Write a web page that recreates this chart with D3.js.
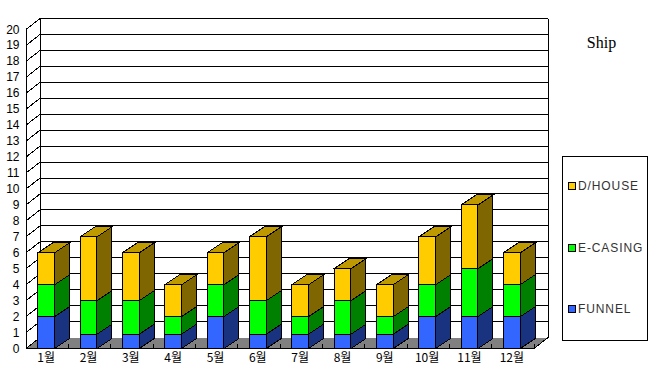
<!DOCTYPE html>
<html>
<head>
<meta charset="utf-8">
<script src="https://d3js.org/d3.v7.min.js"></script>
<style>
  body { margin: 0; background: #fff; }
  svg { display: block; }
</style>
</head>
<body>
<div id="chart"></div>
<script>
// chart data
const months = ["1월", "2월", "3월", "4월", "5월", "6월", "7월", "8월", "9월", "10월", "11월", "12월"];
const funnel = [2, 0.9, 0.9, 0.9, 2, 0.9, 0.9, 0.9, 0.9, 2, 2, 2];
const eCasing = [2, 2.1, 2.1, 1.1, 2, 2.1, 1.1, 2.1, 1.1, 2, 3, 2];
const dHouse = [2, 4, 3, 2, 2, 4, 2, 2, 2, 3, 4, 2];
const yTicks = d3.range(0, 21);

const width = 657, height = 379;
const svg = d3.select("#chart").append("svg")
    .attr("width", width)
    .attr("height", height)
    .attr("shape-rendering", "crispEdges");

// fake 3d: back wall sits up and right of the front plane
const depthX = 14, depthY = -11;
const barDepthX = 15, barDepthY = -10;

const x = d3.scaleBand().domain(months).range([26, 534])
    .paddingInner(0.6).paddingOuter(0.3).align(0.46);
const y = d3.scaleLinear().domain([0, 20]).range([348.5, 29.5]);

const series = [
  { name: "FUNNEL", values: funnel, front: "#3366ff", side: "#1a3380", top: "#264dbf" },
  { name: "E-CASING", values: eCasing, front: "#00ff00", side: "#008000", top: "#00bf00" },
  { name: "D/HOUSE", values: dHouse, front: "#ffcc00", side: "#806600", top: "#bf9900" },
];

const left = x.range()[0], right = x.range()[1];

// floor, no line along its back edge
svg.append("polygon")
    .attr("points", [[left, y(0)], [right, y(0)], [right + depthX, y(0) + depthY], [left + depthX, y(0) + depthY]].join(" "))
    .attr("fill", "#808080");

// grid on back wall and left wall
svg.selectAll(".grid")
    .data(yTicks.filter(d => d > 0))
    .enter().append("line")
    .attr("x1", left + depthX).attr("x2", right + depthX)
    .attr("y1", d => y(d) + depthY).attr("y2", d => y(d) + depthY)
    .attr("stroke", "#000");

svg.selectAll(".wall")
    .data(yTicks)
    .enter().append("line")
    .attr("x1", left).attr("x2", left + depthX)
    .attr("y1", d => y(d)).attr("y2", d => y(d) + depthY)
    .attr("stroke", "#000");

const frame = [
  [left, y(0), left, y(20)],
  [left + depthX, y(0) + depthY, left + depthX, y(20) + depthY],
  [right + depthX, y(0) + depthY, right + depthX, y(20) + depthY],
  [left, y(0), right, y(0)],
  [right, y(0), right + depthX, y(0) + depthY],
];
svg.selectAll(".frame")
    .data(frame)
    .enter().append("line")
    .attr("x1", d => d[0]).attr("y1", d => d[1])
    .attr("x2", d => d[2]).attr("y2", d => d[3])
    .attr("stroke", "#000");

// little ticks on the floor between months
svg.selectAll(".floorTick")
    .data(d3.range(1, months.length + 1))
    .enter().append("line")
    .attr("x1", d => left + d * x.step()).attr("x2", d => left + d * x.step())
    .attr("y1", y(0)).attr("y2", y(0) - 5)
    .attr("stroke", "#000");

// stacked 3d bars
const stacked = d3.stack().keys([0, 1, 2]).value((d, k) => series[k].values[d])(d3.range(months.length));
const w = x.bandwidth();

stacked.forEach((layer, k) => {
  const s = series[k];
  const g = svg.append("g");
  layer.forEach((d, i) => {
    const bx = x(months[i]), y0 = y(d[0]), y1 = y(d[1]);
    g.append("polygon")
        .attr("points", [[bx + w, y0], [bx + w + barDepthX, y0 + barDepthY], [bx + w + barDepthX, y1 + barDepthY], [bx + w, y1]].join(" "))
        .attr("fill", s.side).attr("stroke", "#000");
    g.append("rect")
        .attr("x", bx).attr("y", y1).attr("width", w).attr("height", y0 - y1)
        .attr("fill", s.front).attr("stroke", "#000");
    if (k === 2) {
      g.append("polygon")
          .attr("points", [[bx, y1], [bx + barDepthX, y1 + barDepthY], [bx + w + barDepthX, y1 + barDepthY], [bx + w, y1]].join(" "))
          .attr("fill", s.top).attr("stroke", "#000");
    }
  });
});

// y tick labels
svg.selectAll(".yLabel")
    .data(yTicks)
    .enter().append("text")
    .attr("x", 19.5)
    .attr("y", d => y(d) + 4)
    .attr("text-anchor", "end")
    .attr("font-family", "'Liberation Sans', sans-serif")
    .attr("font-size", 12)
    .attr("fill", "#000")
    .text(d => d);

// month labels
svg.selectAll(".xLabel")
    .data(months)
    .enter().append("text")
    .attr("x", d => x(d) + w / 2)
    .attr("y", 362)
    .attr("text-anchor", "middle")
    .attr("font-family", "'Noto Sans CJK KR', sans-serif")
    .attr("font-size", 12)
    .attr("fill", "#000")
    .text(d => d);

// title
svg.append("text")
    .attr("x", 601.5).attr("y", 48)
    .attr("text-anchor", "middle")
    .attr("font-family", "'Liberation Serif', serif")
    .attr("font-size", 16)
    .attr("fill", "#000")
    .text("Ship");

// legend
svg.append("rect")
    .attr("x", 562.5).attr("y", 156.5).attr("width", 85).attr("height", 184)
    .attr("fill", "#fff").attr("stroke", "#000");

const legendY = d3.scalePoint().domain(["D/HOUSE", "E-CASING", "FUNNEL"]).range([186, 309]);
const legend = svg.selectAll(".legend")
    .data(series)
    .enter().append("g")
    .attr("transform", d => `translate(0,${legendY(d.name)})`);
legend.append("rect")
    .attr("x", 568.5).attr("y", -3.5).attr("width", 7).attr("height", 7)
    .attr("fill", d => d.front).attr("stroke", "#000");
legend.append("text")
    .attr("x", 578).attr("y", 4)
    .attr("font-family", "'Liberation Sans', sans-serif")
    .attr("font-size", 12)
    .attr("letter-spacing", 0.9)
    .attr("fill", "#333")
    .text(d => d.name);
</script>
</body>
</html>
